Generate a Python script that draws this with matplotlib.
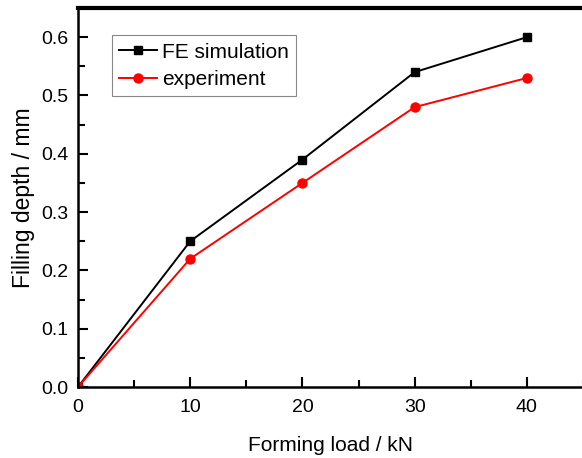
import matplotlib
matplotlib.use("Agg")
import matplotlib.pyplot as plt
from matplotlib.ticker import MultipleLocator

plt.rcParams['font.family'] = ['Liberation Sans', 'DejaVu Sans']

load = [0, 10, 20, 30, 40]
fe_sim = [0.0, 0.25, 0.39, 0.54, 0.60]
experiment = [0.0, 0.22, 0.35, 0.48, 0.53]

fig = plt.figure(figsize=(5.82, 4.58), dpi=100)
# axes run past the right edge of the picture, as in the reference crop
ax = fig.add_axes([78 / 582, 71 / 458, 505 / 582, 379 / 458])

ax.plot(load, fe_sim, color='black', marker='s', markersize=6, lw=1.4, label='FE simulation')
ax.plot(load, experiment, color='red', marker='o', markersize=6.5, lw=1.4, label='experiment')

ax.set_xlim(0, 45)
ax.set_ylim(0, 0.65)
ax.xaxis.set_major_locator(MultipleLocator(10))
ax.xaxis.set_minor_locator(MultipleLocator(5))
ax.yaxis.set_major_locator(MultipleLocator(0.1))
ax.yaxis.set_minor_locator(MultipleLocator(0.05))
ax.yaxis.set_major_formatter(plt.FormatStrFormatter('%.1f'))

ax.tick_params(which='both', direction='in', top=False, right=False, width=1.5, labelsize=14)
ax.tick_params(which='major', length=7.5, pad=7)
ax.tick_params(axis='x', which='major', pad=9)
ax.tick_params(which='minor', length=5)
for s in ['left', 'bottom']:
    ax.spines[s].set_linewidth(1.8)
ax.spines['top'].set_linewidth(3)
ax.spines['right'].set_linewidth(1.8)

ax.set_xlabel('Forming load / kN', fontsize=15, labelpad=14)
ax.set_ylabel('Filling depth / mm', fontsize=16.5, labelpad=4)

leg = ax.legend(loc='upper left', bbox_to_anchor=(0.067, 0.928), fontsize=15,
                fancybox=False, edgecolor='#888888', framealpha=1,
                handlelength=1.8, borderpad=0.35, labelspacing=0.4, handletextpad=0.25,
                borderaxespad=0)
leg.get_frame().set_linewidth(0.8)

fig.savefig('out.png', dpi=100)
